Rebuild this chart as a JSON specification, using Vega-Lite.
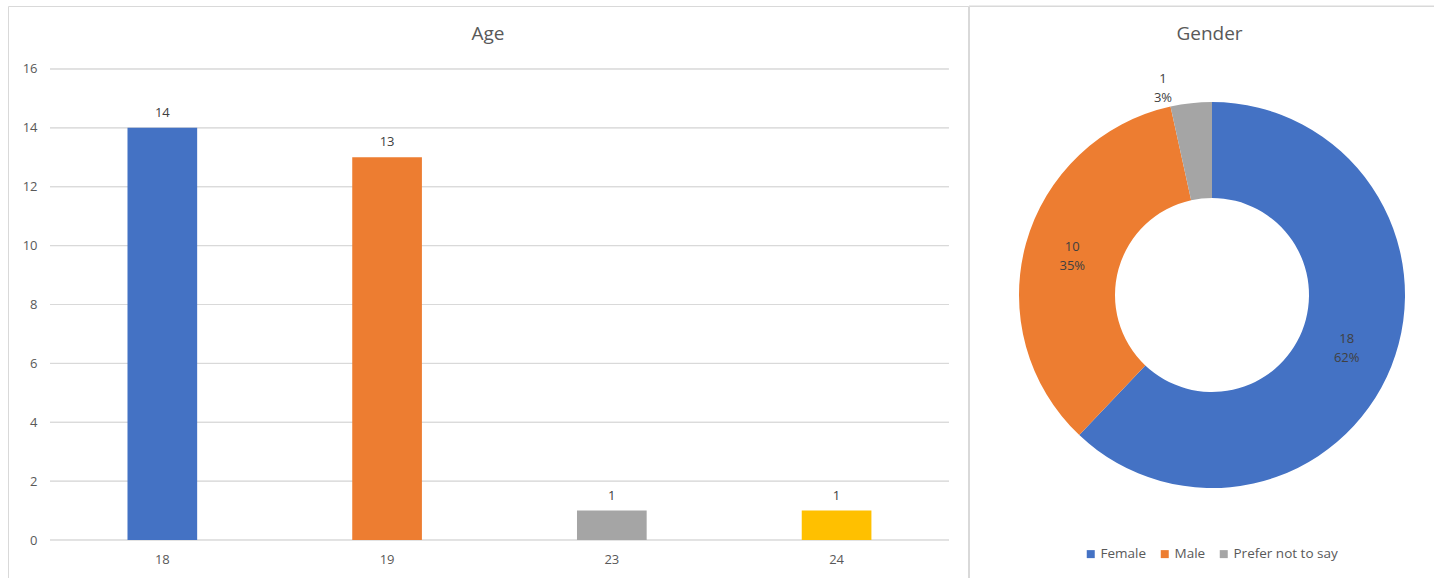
{
  "$schema": "https://vega.github.io/schema/vega-lite/v6.json",
  "padding": {"left": 7, "top": 5, "right": 0, "bottom": 0},
  "spacing": -2,
  "datasets": {
    "ages": [
      {"age": "18", "count": 14},
      {"age": "19", "count": 13},
      {"age": "23", "count": 1},
      {"age": "24", "count": 1}
    ],
    "gridlines": [
      {"g": "grid", "v": 0}, {"g": "grid", "v": 2}, {"g": "grid", "v": 4},
      {"g": "grid", "v": 6}, {"g": "grid", "v": 8}, {"g": "grid", "v": 10},
      {"g": "grid", "v": 12}, {"g": "grid", "v": 14}, {"g": "grid", "v": 16}
    ],
    "gender": [
      {"gender": "Female", "count": 18, "pct": 0.62},
      {"gender": "Male", "count": 10, "pct": 0.35},
      {"gender": "Prefer not to say", "count": 1, "pct": 0.03}
    ],
    "frame": [{"f": "panel"}]
  },
  "resolve": {"scale": {"color": "independent"}, "legend": {"color": "independent"}},
  "hconcat": [
    {
      "width": 960,
      "height": 573,
      "title": {"text": "Age"},
      "resolve": {"scale": {"x": "independent"}},
      "layer": [
        {
          "data": {"name": "gridlines"},
          "mark": {"type": "rect", "fillOpacity": 0, "stroke": "#D9D9D9", "strokeWidth": 1},
          "encoding": {
            "x": {"field": "g", "type": "nominal", "scale": {"paddingInner": 0, "paddingOuter": 0.03393, "align": 0.6885}, "axis": null},
            "y": {
              "field": "v", "type": "quantitative",
              "scale": {"domain": [-1.3248, 18.1401], "nice": false, "zero": false},
              "axis": {"title": null, "values": [0, 2, 4, 6, 8, 10, 12, 14, 16], "offset": -32, "domain": false, "ticks": false, "tickSize": 0, "labelPadding": 3, "grid": false}
            },
            "y2": {"field": "v"}
          }
        },
        {
          "data": {"name": "ages"},
          "layer": [
            {
              "mark": {"type": "bar"},
              "encoding": {
                "x": {
                  "field": "age", "type": "nominal",
                  "scale": {"paddingInner": 0.69, "paddingOuter": 0.4807, "align": 0.553},
                  "axis": {"title": null, "orient": "bottom", "offset": -39, "domain": false, "ticks": false, "tickSize": 0, "labelPadding": 13, "labelAngle": 0, "grid": false}
                },
                "y": {
                  "field": "count", "type": "quantitative",
                  "scale": {"domain": [-1.3248, 18.1401], "nice": false, "zero": false},
                  "axis": {"title": null, "values": [0, 2, 4, 6, 8, 10, 12, 14, 16], "offset": -32, "domain": false, "ticks": false, "tickSize": 0, "labelPadding": 3, "grid": false}
                },
                "y2": {"datum": 0},
                "color": {
                  "field": "age", "type": "nominal",
                  "scale": {"domain": ["18", "19", "23", "24"], "range": ["#4472C4", "#ED7D31", "#A5A5A5", "#FFC000"]},
                  "legend": null
                }
              }
            },
            {
              "mark": {"type": "text", "dy": -11, "baseline": "alphabetic", "fontSize": 13, "color": "#404040"},
              "encoding": {
                "x": {"field": "age", "type": "nominal"},
                "y": {"field": "count", "type": "quantitative"},
                "text": {"field": "count", "type": "quantitative"}
              }
            }
          ]
        }
      ]
    },
    {
      "width": 469,
      "height": 573,
      "title": {"text": "Gender", "dx": 6},
      "layer": [
        {
          "data": {"name": "frame"},
          "mark": {"type": "rect", "fillOpacity": 0, "stroke": "#D9D9D9", "strokeWidth": 1},
          "encoding": {
            "x": {"field": "f", "type": "nominal", "scale": {"paddingInner": 0, "paddingOuter": 0}, "axis": null},
            "y": {"field": "f", "type": "nominal", "scale": {"paddingInner": 0, "paddingOuter": 0}, "axis": null}
          }
        },
        {
          "data": {"name": "gender"},
          "mark": {"type": "arc", "radius": 193, "radius2": 97, "xOffset": 8.5, "yOffset": 2.5},
          "encoding": {
            "theta": {"field": "count", "type": "quantitative", "stack": true},
            "order": {"field": "gender", "type": "ordinal", "sort": "ascending"},
            "color": {
              "field": "gender", "type": "nominal",
              "scale": {"domain": ["Female", "Male", "Prefer not to say"], "range": ["#4472C4", "#ED7D31", "#A5A5A5"]},
              "legend": {
                "orient": "none", "legendX": 115, "legendY": 541, "direction": "horizontal", "title": null,
                "symbolType": "square", "symbolSize": 64, "symbolStrokeWidth": 0,
                "labelFontSize": 13.5, "labelColor": "#595959", "columnPadding": 11, "labelOffset": 3
              }
            }
          }
        },
        {
          "data": {"name": "gender"},
          "mark": {"type": "text", "radius": 145, "xOffset": 8.5, "yOffset": -7.1, "fontSize": 13, "color": "#404040"},
          "encoding": {
            "theta": {"field": "count", "type": "quantitative", "stack": true},
            "order": {"field": "gender", "type": "ordinal", "sort": "ascending"},
            "detail": {"field": "gender", "type": "nominal"},
            "text": {"condition": {"test": "datum.gender === 'Prefer not to say'", "value": ""}, "field": "count", "type": "quantitative"}
          }
        },
        {
          "data": {"name": "gender"},
          "mark": {"type": "text", "radius": 145, "xOffset": 8.5, "yOffset": 12.1, "fontSize": 13, "color": "#404040"},
          "encoding": {
            "theta": {"field": "count", "type": "quantitative", "stack": true},
            "order": {"field": "gender", "type": "ordinal", "sort": "ascending"},
            "detail": {"field": "gender", "type": "nominal"},
            "text": {"condition": {"test": "datum.gender === 'Prefer not to say'", "value": ""}, "field": "pct", "type": "quantitative", "format": ".0%"}
          }
        },
        {
          "data": {"name": "gender"},
          "mark": {"type": "text", "radius": 208, "xOffset": -18, "yOffset": -7.1, "fontSize": 13, "color": "#404040"},
          "encoding": {
            "theta": {"field": "count", "type": "quantitative", "stack": true},
            "order": {"field": "gender", "type": "ordinal", "sort": "ascending"},
            "detail": {"field": "gender", "type": "nominal"},
            "text": {"condition": {"test": "datum.gender !== 'Prefer not to say'", "value": ""}, "field": "count", "type": "quantitative"}
          }
        },
        {
          "data": {"name": "gender"},
          "mark": {"type": "text", "radius": 208, "xOffset": -18, "yOffset": 12.1, "fontSize": 13, "color": "#404040"},
          "encoding": {
            "theta": {"field": "count", "type": "quantitative", "stack": true},
            "order": {"field": "gender", "type": "ordinal", "sort": "ascending"},
            "detail": {"field": "gender", "type": "nominal"},
            "text": {"condition": {"test": "datum.gender !== 'Prefer not to say'", "value": ""}, "field": "pct", "type": "quantitative", "format": ".0%"}
          }
        }
      ]
    }
  ],
  "config": {
    "font": "Open Sans",
    "background": "white",
    "view": {"stroke": "#D9D9D9"},
    "title": {"fontSize": 19, "fontWeight": "normal", "color": "#595959", "baseline": "alphabetic", "offset": -38, "anchor": "middle"},
    "axis": {"labelFontSize": 13, "labelColor": "#595959"},
    "legend": {"labelFont": "Open Sans"}
  }
}
